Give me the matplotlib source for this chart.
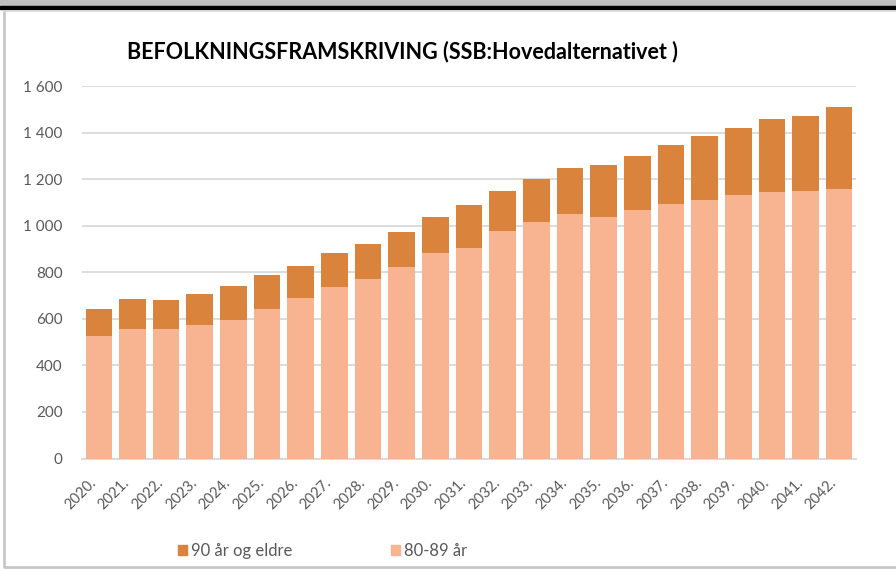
import numpy as np
import matplotlib.pyplot as plt
import matplotlib.transforms as mtransforms
from matplotlib.patches import Rectangle, Patch
from matplotlib.lines import Line2D

years = [f"{y}." for y in range(2020, 2043)]
age_80_89 = [526, 556, 556, 573, 594, 643, 689, 736, 770, 822, 882, 903,
             976, 1015, 1049, 1038, 1067, 1092, 1110, 1131, 1144, 1148, 1157]
total = [642, 683, 679, 705, 739, 788, 826, 882, 920, 972, 1036, 1088,
         1148, 1200, 1248, 1262, 1301, 1347, 1385, 1420, 1458, 1471, 1510]
age_90_plus = [t - b for t, b in zip(total, age_80_89)]

c_old = "#DA833C"
c_young = "#F8B490"
grey_txt = "#595959"

plt.rcParams['font.family'] = ['Lato', 'DejaVu Sans']

fig = plt.figure(figsize=(8.96, 5.70), dpi=100)
W, H = 896, 570

# screenshot frame bits
fig.patches.append(Rectangle((0, 1 - 6 / H), 1, 6 / H, transform=fig.transFigure,
                             color="#BFBFBF", zorder=0))
fig.patches.append(Rectangle((0, 1 - 8.5 / H), 1, 2.5 / H, transform=fig.transFigure,
                             color="black", zorder=0))
fig.lines.append(Line2D([4 / W, 4 / W, 1], [1 - 11 / H, 3 / H, 3 / H],
                        transform=fig.transFigure, color="#C8C8C8", lw=2))
fig.lines.append(Line2D([4 / W, 1], [1 - 11 / H, 1 - 11 / H],
                        transform=fig.transFigure, color="#D9D9D9", lw=1.2))

ax = fig.add_axes([82 / W, 1 - 458.5 / H, (856 - 82) / W, (458.5 - 86) / H])
x = np.arange(len(years))
ax.bar(x, age_80_89, width=0.79, color=c_young, zorder=3)
ax.bar(x, age_90_plus, bottom=age_80_89, width=0.79, color=c_old, zorder=3)

ax.set_xlim(-0.5, len(years) - 0.5)
ax.set_ylim(0, 1600)
ax.set_yticks(range(0, 1601, 200))
ax.set_yticklabels([f"{v:,}".replace(",", " ") for v in range(0, 1601, 200)])
ax.yaxis.grid(True, color="#D9D9D9", lw=1.3, zorder=0)
for s in ["top", "right", "left"]:
    ax.spines[s].set_visible(False)
ax.spines["bottom"].set_color("#D9D9D9")
ax.spines["bottom"].set_linewidth(1.3)
ax.tick_params(axis="both", length=0, colors=grey_txt, labelsize=11)
ax.tick_params(axis="y", pad=14)
ax.set_xticks(x)
ax.set_xticklabels(years, rotation=45, ha="right", va="center",
                   rotation_mode="anchor", fontsize=10.5)
ax.tick_params(axis="x", pad=16)
shift = mtransforms.ScaledTranslation(-5 / 100, 0, fig.dpi_scale_trans)
for lab in ax.get_xticklabels():
    lab.set_transform(lab.get_transform() + shift)

fig.text(127 / W, 1 - 52 / H, "BEFOLKNINGSFRAMSKRIVING (SSB:Hovedalternativet )",
         fontsize=15.5, fontweight="bold", color="black", ha="left", va="center")

handles = [Patch(color=c_old, label="90 år og eldre"),
           Patch(color=c_young, label="80-89 år")]
fig.legend(handles=handles, loc="center left", bbox_to_anchor=(178 / W, 1 - 551 / H),
           ncol=2, frameon=False, fontsize=12, labelcolor=grey_txt,
           handlelength=0.55, handleheight=0.55, handletextpad=0.25,
           columnspacing=5.9, borderaxespad=0, borderpad=0)

fig.savefig("out.png", dpi=100)
